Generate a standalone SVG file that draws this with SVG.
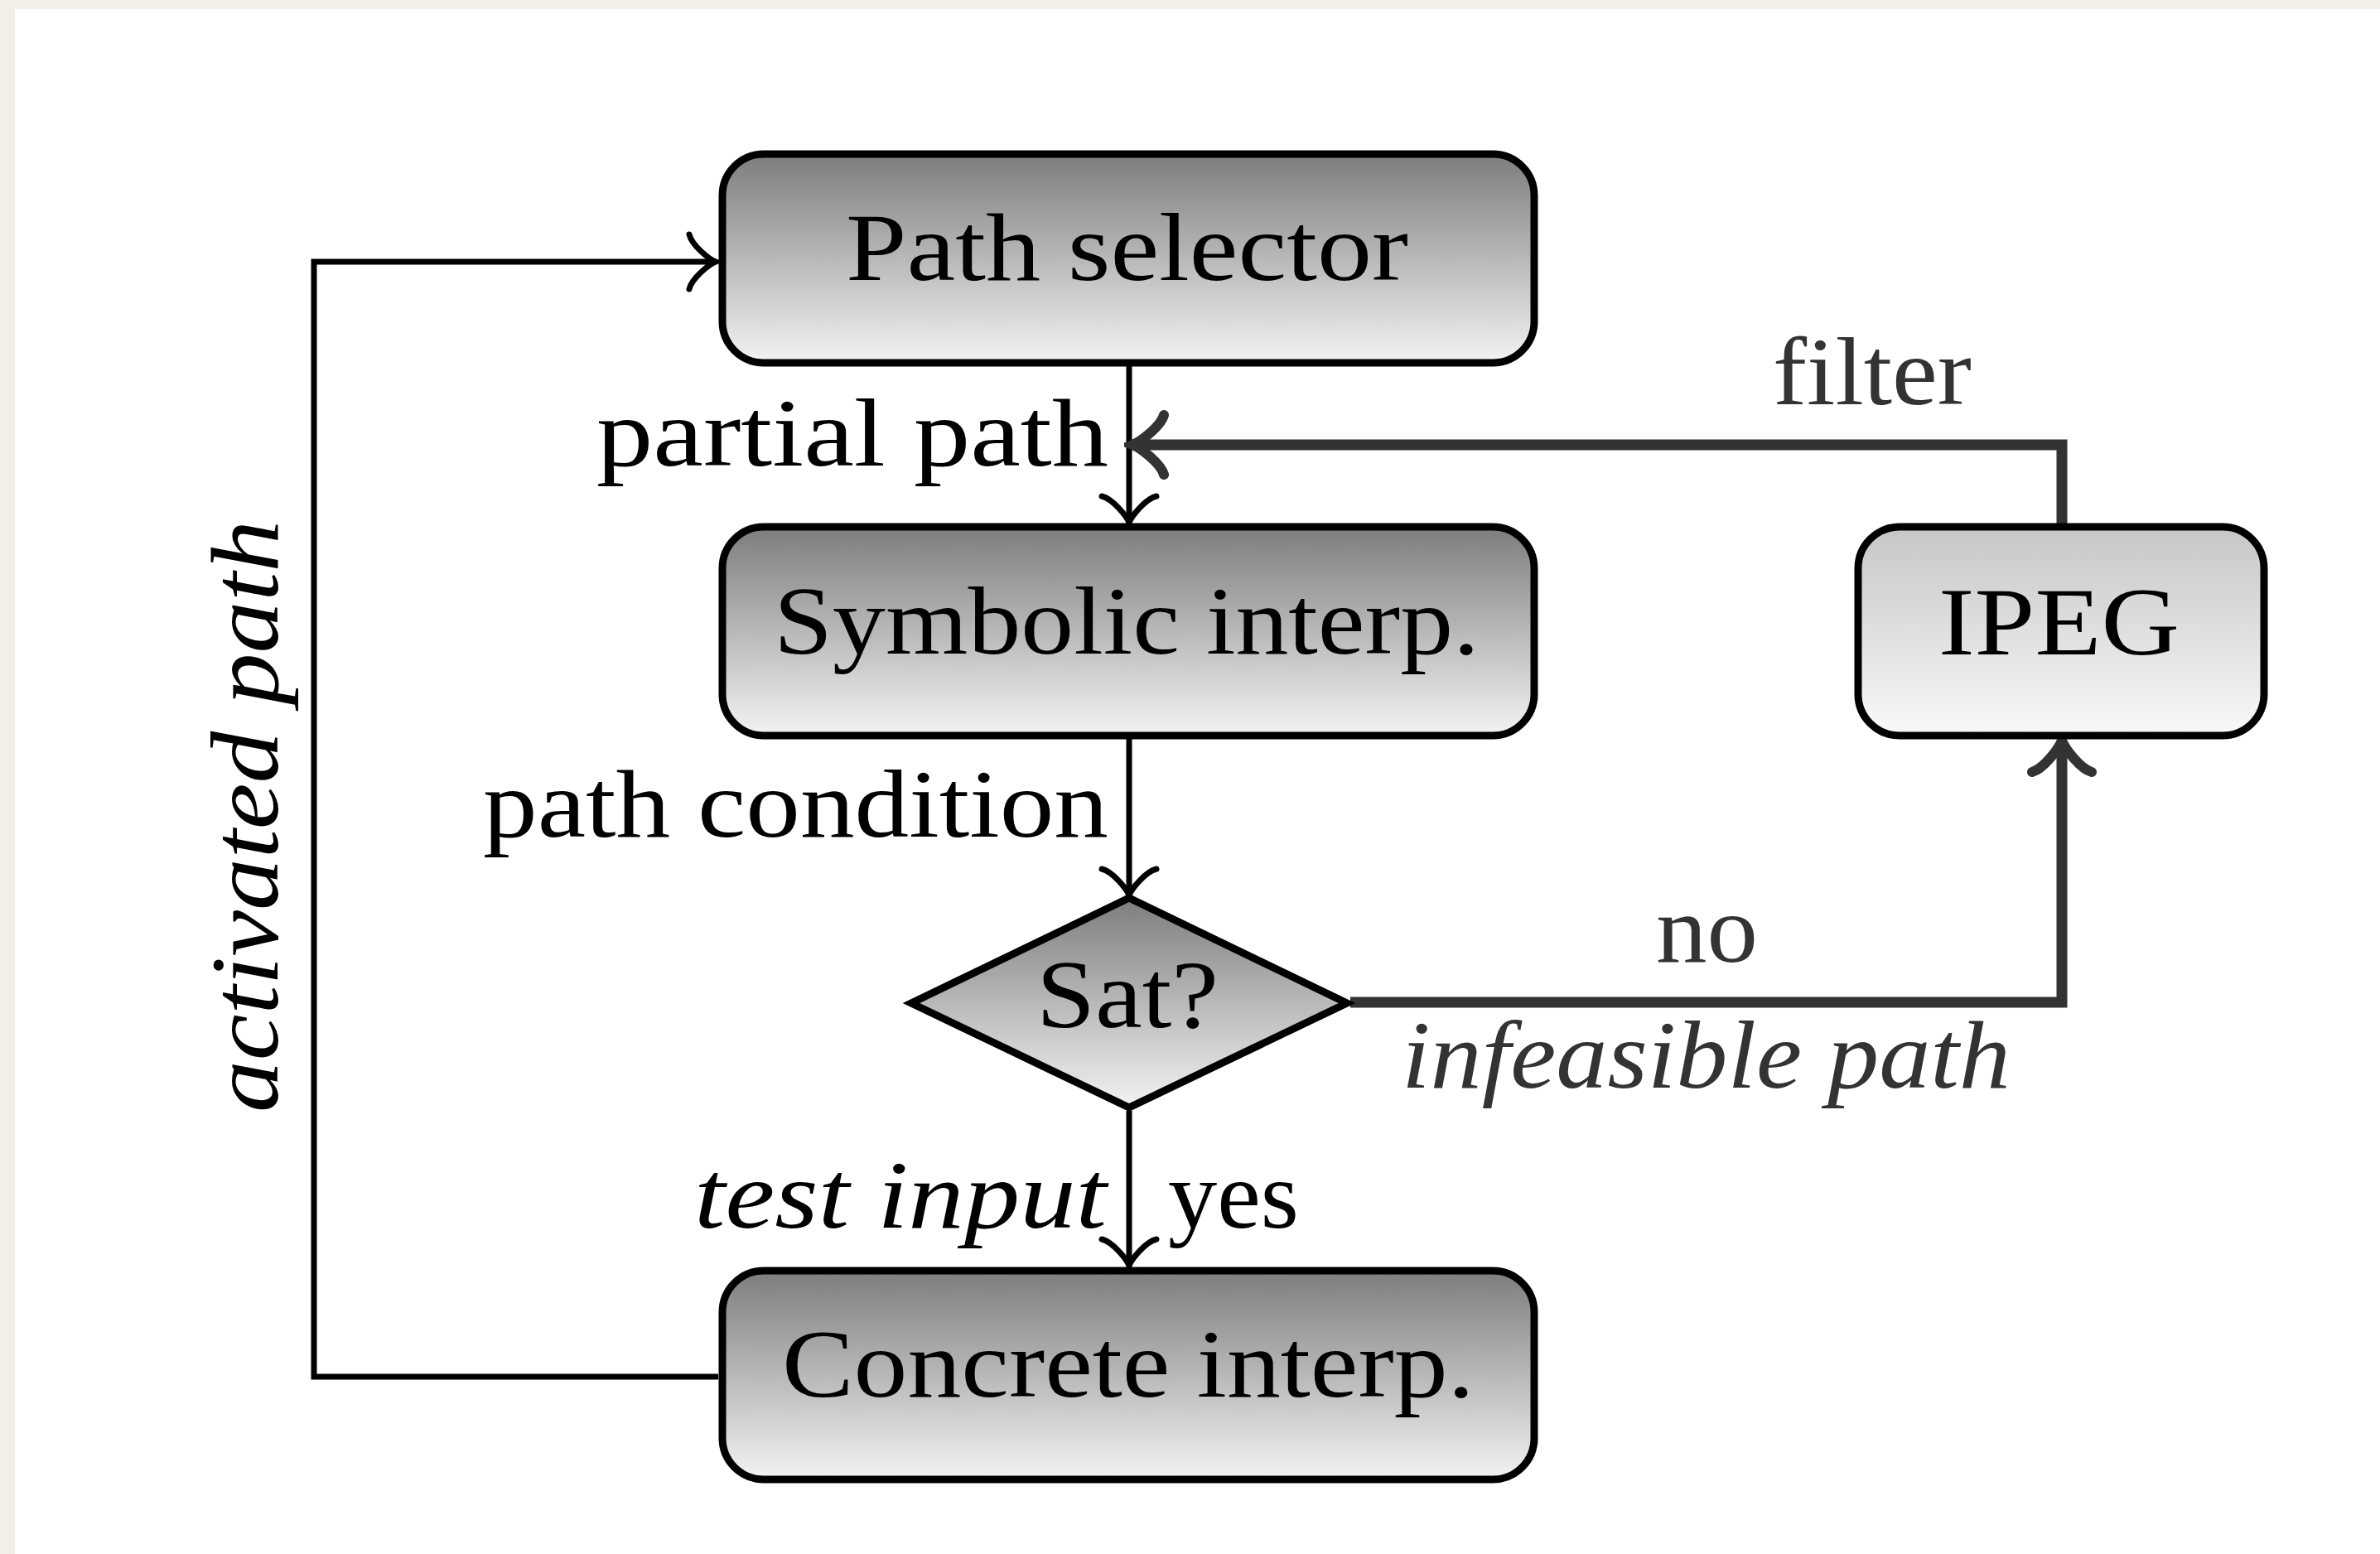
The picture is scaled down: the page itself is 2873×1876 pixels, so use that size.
<svg xmlns="http://www.w3.org/2000/svg" width="2873" height="1876" viewBox="0 0 2873 1876">
  <style>
    .node { stroke: #000; stroke-width: 9; stroke-linejoin: miter; }
    .lbl { font-family: "Liberation Serif", "Times New Roman", serif; font-size: 116px; fill: #000; }
    .it { font-style: italic; }
    .grey { fill: #333; }
    .thin { fill: none; stroke: #000; stroke-width: 7; stroke-linejoin: miter; }
    .thick { fill: none; stroke: #333; stroke-width: 13; stroke-linejoin: miter; }
  </style>
  <defs>
    <linearGradient id="shadeDark" x1="0" y1="0" x2="0" y2="1">
      <stop offset="0" stop-color="#7d7d7d"/>
      <stop offset="1" stop-color="#f3f3f3"/>
    </linearGradient>
    <linearGradient id="shadeLight" x1="0" y1="0" x2="0" y2="1">
      <stop offset="0" stop-color="#c6c6c6"/>
      <stop offset="1" stop-color="#f9f9f9"/>
    </linearGradient>
    <!-- open curved "to" arrowheads; tip sits at the path end -->
    <marker id="tipThin" markerUnits="userSpaceOnUse" viewBox="-50 -50 60 100" markerWidth="60" markerHeight="100" refX="0" refY="0" orient="auto">
      <path d="M -32 -33 C -29 -20, -8 -3, 0 0 C -8 3, -29 20, -32 33" fill="none" stroke="#000" stroke-width="7" stroke-linecap="round"/>
    </marker>
    <marker id="tipThick" markerUnits="userSpaceOnUse" viewBox="-50 -50 60 100" markerWidth="60" markerHeight="100" refX="0" refY="0" orient="auto">
      <path d="M -38 -36 C -34 -22, -10 -4, 0 0 C -10 4, -34 22, -38 36" fill="none" stroke="#333" stroke-width="12" stroke-linecap="round"/>
    </marker>
  </defs>

  <!-- page backdrop and white sheet -->
  <rect x="0" y="0" width="2873" height="1876" fill="#f2efe8"/>
  <rect x="18" y="11" width="2855" height="1865" fill="#fff"/>

  <!-- connectors -->
  <g id="connectors">
    <path class="thin" d="M 1363 441 V 631" marker-end="url(#tipThin)"/>
    <path class="thin" d="M 1363 892 V 1081" marker-end="url(#tipThin)"/>
    <path class="thin" d="M 1363 1341 V 1528" marker-end="url(#tipThin)"/>
    <path class="thin" d="M 867 1662 H 379 V 316 H 864" marker-end="url(#tipThin)"/>
    <path class="thick" d="M 1630 1210 H 2489 V 894" marker-end="url(#tipThick)"/>
    <path class="thick" d="M 2489 632 V 537 H 1367" marker-end="url(#tipThick)"/>
  </g>

  <!-- edge labels -->
  <g id="edge-labels">
    <text class="lbl" x="720" y="562" textLength="618" lengthAdjust="spacingAndGlyphs">partial path</text>
    <text class="lbl grey" x="2140" y="488" textLength="240" lengthAdjust="spacingAndGlyphs">filter</text>
    <text class="lbl" x="583" y="1010" textLength="755" lengthAdjust="spacingAndGlyphs">path condition</text>
    <text class="lbl grey" x="1999" y="1161" textLength="123" lengthAdjust="spacingAndGlyphs">no</text>
    <text class="lbl it grey" x="1692" y="1313" textLength="735" lengthAdjust="spacingAndGlyphs">infeasible path</text>
    <text class="lbl it" x="838" y="1482" textLength="498" lengthAdjust="spacingAndGlyphs">test input</text>
    <text class="lbl" x="1410" y="1482" textLength="158" lengthAdjust="spacingAndGlyphs">yes</text>
    <text class="lbl it" transform="translate(335,1343) rotate(-90)" x="0" y="0" textLength="715" lengthAdjust="spacingAndGlyphs">activated path</text>
  </g>

  <!-- nodes -->
  <g id="path-selector">
    <rect class="node" x="872" y="186" width="980" height="252" rx="50" fill="url(#shadeDark)"/>
    <text class="lbl" x="1021" y="338" textLength="679" lengthAdjust="spacingAndGlyphs">Path selector</text>
  </g>
  <g id="symbolic-interp">
    <rect class="node" x="872" y="636" width="980" height="252" rx="50" fill="url(#shadeDark)"/>
    <text class="lbl" x="934" y="789" textLength="852" lengthAdjust="spacingAndGlyphs">Symbolic interp.</text>
  </g>
  <g id="ipeg">
    <rect class="node" x="2243" y="636" width="490" height="252" rx="50" fill="url(#shadeLight)"/>
    <text class="lbl" x="2340" y="790" textLength="291" lengthAdjust="spacingAndGlyphs">IPEG</text>
  </g>
  <g id="sat">
    <polygon class="node" points="1363,1084 1626,1211 1363,1337 1100,1211" fill="url(#shadeDark)"/>
    <text class="lbl" x="1251" y="1240" textLength="220" lengthAdjust="spacingAndGlyphs">Sat?</text>
  </g>
  <g id="concrete-interp">
    <rect class="node" x="872" y="1534" width="980" height="252" rx="50" fill="url(#shadeDark)"/>
    <text class="lbl" x="944" y="1686" textLength="836" lengthAdjust="spacingAndGlyphs">Concrete interp.</text>
  </g>
</svg>
